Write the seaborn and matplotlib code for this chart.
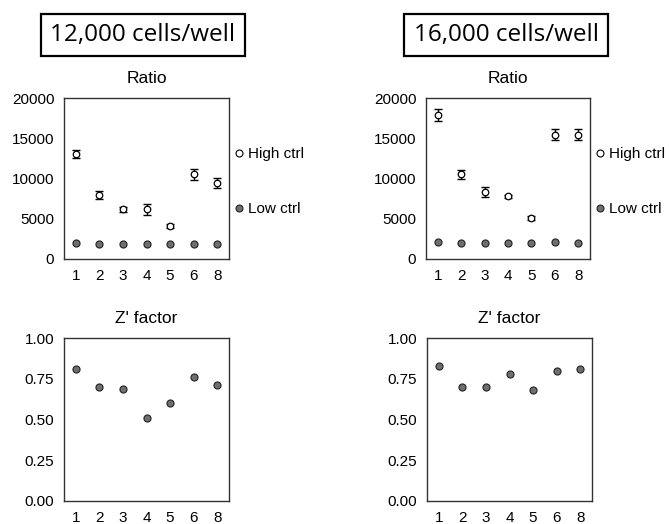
import matplotlib
matplotlib.use("Agg")
import matplotlib.pyplot as plt
from matplotlib.lines import Line2D
import pandas as pd
import seaborn as sns

# ─────────────────────────────────────────────────────────────────
# Data
# ─────────────────────────────────────────────────────────────────
wells = ["1", "2", "3", "4", "5", "6", "8"]

high_12k = [13100, 7900, 6200, 6150, 4100, 10500, 9450]
high_12k_err = [500, 500, 300, 700, 200, 700, 600]
low_12k = [2000, 1900, 1900, 1900, 1900, 1900, 1900]
zprime_12k = [0.81, 0.70, 0.69, 0.51, 0.60, 0.76, 0.71]

high_16k = [17900, 10500, 8300, 7800, 5100, 15450, 15450]
high_16k_err = [700, 600, 600, 200, 200, 700, 700]
low_16k = [2150, 2000, 2000, 2000, 2000, 2050, 2000]
zprime_16k = [0.83, 0.70, 0.70, 0.78, 0.68, 0.80, 0.81]

panel_titles = ["12,000 cells/well", "16,000 cells/well"]


def style_axes(ax, title, ylim, yticks, fmt):
    ax.set_xlim(-0.5, 6.5)
    ax.set_ylim(*ylim)
    ax.set_yticks(yticks)
    ax.set_yticklabels([fmt(v) for v in yticks])
    ax.set_xlabel("")
    ax.set_ylabel("")
    ax.set_title(title, fontsize=12.5, pad=11)
    ax.tick_params(length=0, pad=7, labelsize=11)
    for sp in ax.spines.values():
        sp.set_visible(True)
        sp.set_color("#333333")
        sp.set_linewidth(1.0)
    if ax.get_legend() is not None:
        ax.get_legend().remove()


def plot_ratio(ax, high, err, low):
    df = pd.DataFrame({"well": wells, "high": high, "err": err, "low": low})
    ax.errorbar(df["well"], df["high"], yerr=df["err"], fmt="none",
                ecolor="black", elinewidth=1.0, capsize=3, capthick=1.0, zorder=2)
    sns.scatterplot(data=df, x="well", y="high", ax=ax, marker="o", s=22,
                    facecolor="white", edgecolor="black", linewidth=0.9, zorder=3)
    sns.scatterplot(data=df, x="well", y="low", ax=ax, marker="o", s=26,
                    color="#6e6e6e", edgecolor="#222222", linewidth=0.8, zorder=3)
    style_axes(ax, "Ratio", (0, 20000), [0, 5000, 10000, 15000, 20000], lambda v: f"{v:d}")
    handles = [
        Line2D([], [], marker="o", linestyle="none", markersize=5,
               markerfacecolor="white", markeredgecolor="black", markeredgewidth=0.8),
        Line2D([], [], marker="o", linestyle="none", markersize=5,
               markerfacecolor="#6e6e6e", markeredgecolor="#222222", markeredgewidth=0.8),
    ]
    ax.legend(handles, ["High ctrl", "Low ctrl"], loc="center left",
              bbox_to_anchor=(0.95, 0.48), frameon=False, fontsize=11,
              handlelength=0.6, handletextpad=0.3, labelspacing=2.7)


def plot_zprime(ax, z):
    df = pd.DataFrame({"well": wells, "z": z})
    sns.scatterplot(data=df, x="well", y="z", ax=ax, marker="o", s=26,
                    color="#6e6e6e", edgecolor="#222222", linewidth=0.8, zorder=3)
    style_axes(ax, "Z' factor", (0, 1), [0, 0.25, 0.5, 0.75, 1.0], lambda v: f"{v:.2f}")


sns.set_theme(style="white")
plt.rcParams["font.family"] = ["Liberation Sans", "DejaVu Sans"]
plt.rcParams.update({"text.color": "black", "xtick.color": "black",
                     "ytick.color": "black", "axes.labelcolor": "black"})

fig = plt.figure(figsize=(6.69, 5.24), dpi=100)
W, H = 669, 524


def add_ax(x0, x1, y0, y1):
    return fig.add_axes([x0 / W, 1 - y1 / H, (x1 - x0) / W, (y1 - y0) / H])


ax_r12 = add_ax(64, 229, 98, 259)
ax_r16 = add_ax(426, 590, 98, 259)
ax_z12 = add_ax(64, 229, 338, 501)
ax_z16 = add_ax(427, 592, 338, 501)

plot_ratio(ax_r12, high_12k, high_12k_err, low_12k)
plot_ratio(ax_r16, high_16k, high_16k_err, low_16k)
plot_zprime(ax_z12, zprime_12k)
plot_zprime(ax_z16, zprime_16k)

for cx, label in zip([143, 506], panel_titles):
    fig.text(cx / W, 1 - 35 / H, label, ha="center", va="center",
             fontsize=17.5, family=["Open Sans", "DejaVu Sans"],
             bbox=dict(boxstyle="square,pad=0.38", facecolor="white",
                       edgecolor="black", linewidth=1.6))

fig.savefig("out.png", dpi=100)
plt.close(fig)
